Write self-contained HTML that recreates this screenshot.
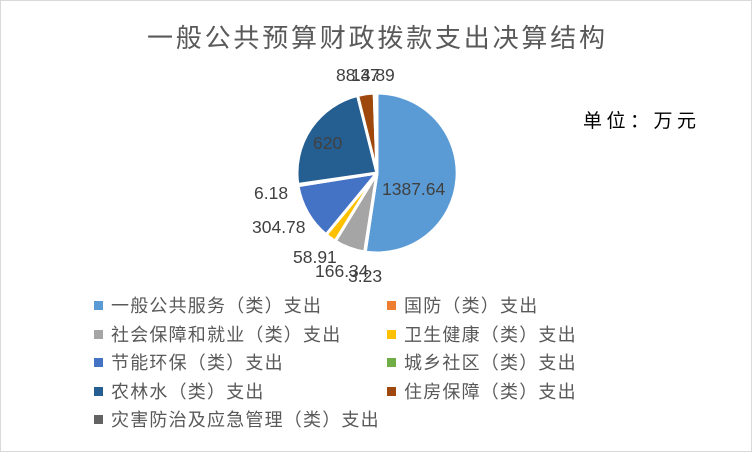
<!DOCTYPE html>
<html><head><meta charset="utf-8"><style>
body{margin:0;background:#fff}
svg{display:block}
text{font-family:"Liberation Sans","Noto Sans CJK SC",sans-serif}
</style></head><body>
<svg width="752" height="452" viewBox="0 0 752 452">
<rect x="0.5" y="0.5" width="751" height="451" fill="#fff" stroke="#d9d9d9"/>
<text x="147" y="47" font-size="26" letter-spacing="2.8" fill="#595959">一般公共预算财政拨款支出决算结构</text>
<text x="583" y="127" font-size="19" letter-spacing="4.5" fill="#000">单位：万元</text>
<g stroke="#fff" stroke-width="3" stroke-linejoin="round">
<path d="M377,173 L377,93 A80,80 0 1,1 365.2,252.1 Z" fill="#5B9BD5"/>
<path d="M377,173 L365.2,252.1 A80,80 0 0,1 364.6,252 Z" fill="#ED7D31"/>
<path d="M377,173 L364.6,252 A80,80 0 0,1 335.2,241.2 Z" fill="#A5A5A5"/>
<path d="M377,173 L335.2,241.2 A80,80 0 0,1 326.1,234.7 Z" fill="#FFC000"/>
<path d="M377,173 L326.1,234.7 A80,80 0 0,1 298,185.6 Z" fill="#4472C4"/>
<path d="M377,173 L298,185.6 A80,80 0 0,1 297.8,184.5 Z" fill="#70AD47"/>
<path d="M377,173 L297.8,184.5 A80,80 0 0,1 357.6,95.4 Z" fill="#255E91"/>
<path d="M377,173 L357.6,95.4 A80,80 0 0,1 374.2,93 Z" fill="#9E480E"/>
<path d="M377,173 L374.2,93 A80,80 0 0,1 377,93 Z" fill="#636363"/>
</g>
<g font-size="17.5" fill="#404040">
<text x="382" y="195">1387.64</text>
<text x="313" y="149">620</text>
<text x="254" y="199">6.18</text>
<text x="252" y="233">304.78</text>
<text x="293" y="263">58.91</text>
<text x="315" y="277">166.34</text>
<text x="348" y="282">3.23</text>
<text x="336" y="81">88.37</text>
<text x="351" y="81">14.89</text>
</g>
<g font-size="18" letter-spacing="1.2" fill="#595959">
<rect x="94" y="301" width="9" height="9" fill="#5B9BD5"/><text x="111" y="312">一般公共服务（类）支出</text>
<rect x="387" y="301" width="9" height="9" fill="#ED7D31"/><text x="404" y="312">国防（类）支出</text>
<rect x="94" y="330" width="9" height="9" fill="#A5A5A5"/><text x="111" y="341">社会保障和就业（类）支出</text>
<rect x="387" y="330" width="9" height="9" fill="#FFC000"/><text x="404" y="341">卫生健康（类）支出</text>
<rect x="94" y="358" width="9" height="9" fill="#4472C4"/><text x="111" y="369">节能环保（类）支出</text>
<rect x="387" y="358" width="9" height="9" fill="#70AD47"/><text x="404" y="369">城乡社区（类）支出</text>
<rect x="94" y="387" width="9" height="9" fill="#255E91"/><text x="111" y="398">农林水（类）支出</text>
<rect x="387" y="387" width="9" height="9" fill="#9E480E"/><text x="404" y="398">住房保障（类）支出</text>
<rect x="94" y="415" width="9" height="9" fill="#636363"/><text x="111" y="426">灾害防治及应急管理（类）支出</text>
</g>
</svg>
</body></html>
